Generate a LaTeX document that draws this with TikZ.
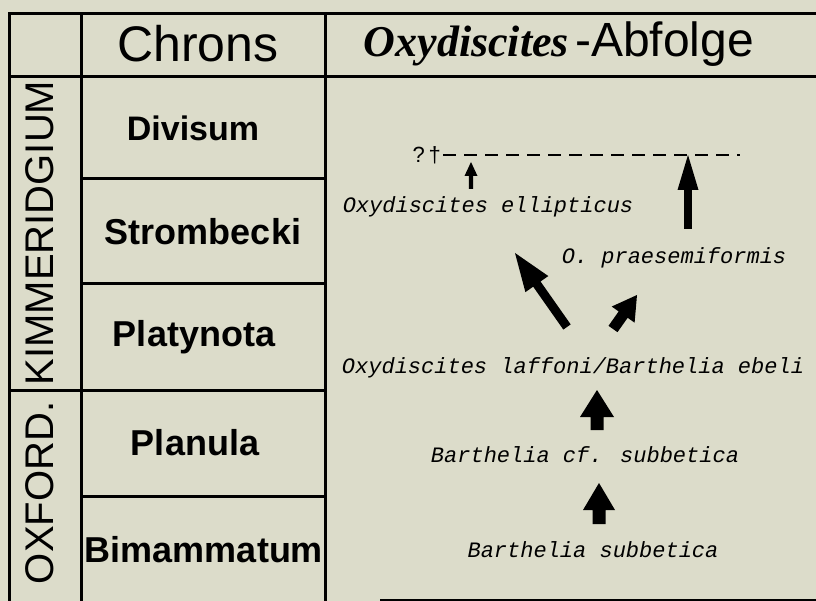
\documentclass[tikz,border=0pt]{standalone}
\usepackage{fontspec}
\setmainfont{Liberation Serif}
\newfontfamily\hsans{Liberation Sans}
\newfontfamily\mono{Liberation Mono}
\usetikzlibrary{calc}
\definecolor{paper}{RGB}{220,220,202}
\newcommand\blkarrow[5]{% tail, tip, half shaft, half head, head length
  \coordinate (ba-b) at ($(#2)!#5!(#1)$);
  \fill[black] ($(#1)!#3!90:(#2)$) -- ($(ba-b)!#3!90:(#2)$) -- ($(ba-b)!#4!90:(#2)$)
    -- (#2) -- ($(ba-b)!#4!-90:(#2)$) -- ($(ba-b)!#3!-90:(#2)$) -- ($(#1)!#3!-90:(#2)$) -- cycle;
}
\begin{document}
\begin{tikzpicture}[x=1pt,y=-1pt,
  rule/.style={line width=3pt, black},
  hdr/.style={font=\hsans\fontsize{50}{50}\selectfont, inner sep=0pt},
  chron/.style={font=\hsans\bfseries\fontsize{36}{36}\selectfont, inner sep=0pt},
  period/.style={font=\hsans\fontsize{40}{40}\selectfont, inner sep=0pt, rotate=90},
  taxon/.style={font=\mono\itshape\fontsize{22}{22}\selectfont, inner sep=0pt},
  dashline/.style={line width=1.8pt, dash pattern=on 13pt off 8pt}
]
\fill[paper] (0,0) rectangle (816,601);
\useasboundingbox (0,0) rectangle (816,601);

% table rules
\draw[rule] (9,14) -- (816,14);
\draw[rule] (9,77) -- (816,77);
\draw[rule] (9,12.5) -- (9,601);
\draw[rule] (81,12.5) -- (81,601);
\draw[rule] (325,12.5) -- (325,601);
\draw[rule] (81,179) -- (325,179);
\draw[rule] (81,284) -- (325,284);
\draw[rule] (9,390) -- (325,390);
\draw[rule] (81,496) -- (325,496);
\draw[rule] (380,600) -- (816,600);

% headers
\node[hdr] (hchron) at (198,44) {Chrons};
\node[inner sep=0pt, anchor=east] (habf) at (754,44) {\fontsize{44}{44}\selectfont\rmfamily\bfseries\itshape Oxydiscites\hspace{6pt}\hsans\mdseries\upshape\fontsize{48}{48}\selectfont-Abfolge};

% periods
\node[period] (kim) at (40,233) {KIMMERIDGIUM};
\node[period] (oxf) at (40,493) {OXFORD.};

% chrons
\node[chron, font=\hsans\bfseries\fontsize{34}{34}\selectfont] (div) at (193,128) {Divisum};
\node[chron] (str) at (203,232) {Strombecki};
\node[chron] (pla) at (194,337) {Platynota};
\node[chron] (plu) at (195,443) {Planula};
\node[chron] (bim) at (204,550) {Bimammatum};

% taxa
\node[taxon] (ell) at (488,207) {Oxydiscites ellipticus};
\node[taxon] (pra) at (674,258) {O. praesemiformis};
\node[taxon] (laf) at (573,368) {Oxydiscites laffoni/Barthelia ebeli};
\node[taxon] (cfs) at (585,455) {Barthelia cf. subbetica};
\node[taxon] (sub) at (593,550) {Barthelia subbetica};

% extinction line
\node[font=\hsans\fontsize{22}{22}\selectfont, inner sep=0pt, anchor=east] (qd) at (441,155) {?\,†};
\coordinate (dend) at (740,155);
\draw[dashline] (qd.east) ++(2,0) -- (dend);

% arrows
\coordinate (a1t) at (471,189); \coordinate (a1h) at (471,162);
\coordinate (a2t) at (688,229); \coordinate (a2h) at (688,155);
\coordinate (a3t) at (567,327); \coordinate (a3h) at (515,253);
\coordinate (a4t) at (613,329); \coordinate (a4h) at (637,295);
\coordinate (a5t) at (597,430); \coordinate (a5h) at (597,390);
\coordinate (a6t) at (599,524); \coordinate (a6h) at (599,483);
\blkarrow{a1t}{a1h}{2.2pt}{6.5pt}{14pt}
\blkarrow{a2t}{a2h}{3.8pt}{10.5pt}{35pt}
\blkarrow{a3t}{a3h}{4.5pt}{14pt}{38pt}
\blkarrow{a4t}{a4h}{5.5pt}{14pt}{24pt}
\blkarrow{a5t}{a5h}{6.5pt}{17pt}{27pt}
\blkarrow{a6t}{a6h}{6.5pt}{16pt}{27pt}
\end{tikzpicture}
\end{document}
